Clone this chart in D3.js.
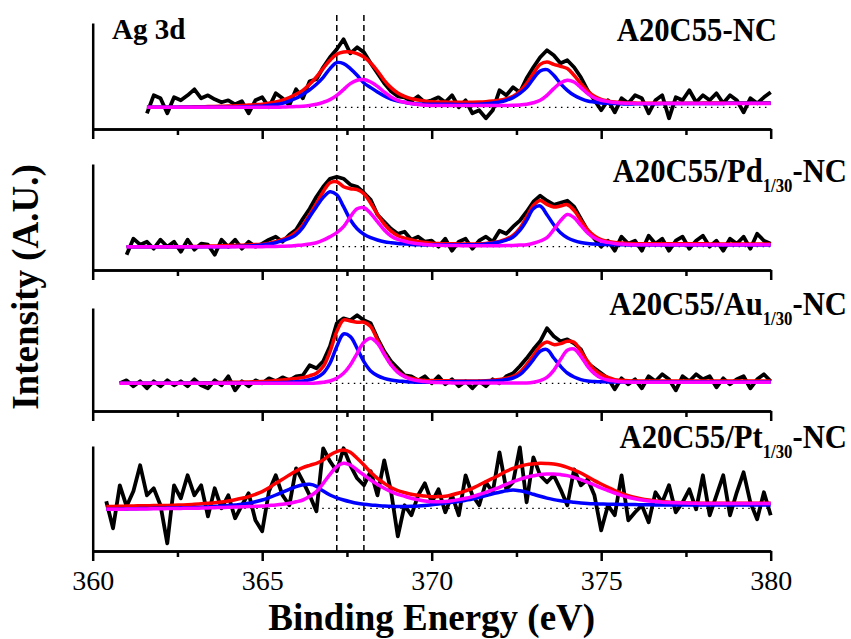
<!DOCTYPE html>
<html>
<head>
<meta charset="utf-8">
<script src="https://cdn.jsdelivr.net/npm/d3@7"></script>
<style>
  body { margin: 0; background: #fff; }
  svg { display: block; font-family: "Liberation Serif", "Times New Roman", serif; }
</style>
</head>
<body>
<svg width="851" height="639"></svg>
<script>
// Ag 3d XPS spectra, four samples
// intensities are arbitrary units above each panel's dotted baseline, sampled every 0.2 eV
const evStep = 0.2;
const evStart = [361.6, 361.0, 360.8, 360.4];

const labelMain = ["A20C55-NC", "A20C55/Pd", "A20C55/Au", "A20C55/Pt"];
const labelSub = ["", "1/30", "1/30", "1/30"];
const labelTail = ["", "-NC", "-NC", "-NC"];

const majorTicks = [360, 365, 370, 375, 380];
const minorTicks = [362.5, 367.5, 372.5, 377.5];
const refLines = [367.2, 368.0];

// panel 1: A20C55-NC
const black1 = [-6,12,9,-6,10,7,12,18,9,12,8,5,7,3,6,-6,7,
  10,0,14,9,2,18,9,26,28,40,50,58,68,54,60,55,44,34,24,16,11,10,6,11,5,
  7,10,5,12,0,7,-6,-3,-11,-3,17,12,20,15,29,40,50,57,52,44,47,40,30,17,7,
  -3,7,-5,9,4,12,9,-6,7,12,-11,10,7,17,5,12,7,14,4,12,7,-5,9,4,10,15];
const blue1 = [0,0,0,0,0,0,0,0,0,0,0,0,0,0,0.5,0.5,1,
  1,2,2.7,4,6.3,9,13,17.5,23,30,38.7,44.7,43.7,38.7,32,24.3,19.7,15.3,11.3,8.3,6.3,5,3.7,3.2,3,
  3,3,3,3,2.8,2.8,2.7,3,3.5,4.3,5.3,7,9.7,14,19.7,28.7,36.3,37.7,32,23.7,17,12,8.7,6.3,5.2,
  4.3,4,3.7,3.5,3.3,3.5,3.5,3.6,3.6,3.7,3.7,3.7,3.8,3.8,3.8,3.8,3.9,3.9,3.9,4,4,4,4,4,4,4];
const magenta1 = [0,0,0,0,0,0,0,0,0,0,0,0,0,0,0,0,0,
  0,0,0,0.3,0.5,0.8,1,1.8,3,5,7.7,12,17.7,23.7,27,27.7,25.3,21,15.3,10.3,7,5,3.7,2.7,2,
  1.8,1.7,1.7,1.7,1.7,1.7,1.7,1.7,1.7,1.7,1.7,1.8,2,2.3,3,4.5,7,12,18.7,24.3,27,25.3,19.7,13.7,9.3,
  7,5.7,4.7,4.3,4,3.9,3.8,3.8,3.8,3.8,3.8,3.8,3.8,3.8,3.8,3.8,3.8,3.8,3.8,3.8,3.8,3.8,3.8,3.8,3.8,3.8];
const red1 = [0,0,0,0,0,0.2,0.3,0.5,0.5,0.7,0.8,1,1.2,1.5,1.8,2.2,2.6,
  3,4,5.3,7.2,9.7,13,17,23,30.3,39,47,53,55.3,55.3,53.7,50.3,44.3,36.3,27,19.7,14.3,11,8.7,7.3,6.3,
  5.5,5.3,5.2,5,5,5,5,5.2,5.6,6.2,7,8.6,11,16,23.7,33.7,43,45.3,43,41,38.7,32,23.7,16.3,11,
  8,6.4,5.3,4.8,4.3,4.2,4.1,4.1,4.1,4.1,4.1,4.1,4.1,4.1,4.1,4.2,4.2,4.2,4.2,4.2,4.2,4.2,4.2,4.2,4.2,4.2];

// panel 2: A20C55/Pd1/30-NC
const black2 = [-8,8,2,5,-2,7,0,5,-5,7,-3,3,2,-8,7,0,7,-2,5,0,
  3,7,10,5,12,17,28,38,50,60,68,70,68,62,60,54,47,32,25,18,13,15,7,10,5,
  6,0,8,-4,5,8,-2,6,10,5,16,13,20,26,35,45,51,46,42,44,46,40,28,16,8,
  0,6,-4,10,3,6,-4,11,3,8,-4,6,10,-2,6,11,0,6,-4,8,3,10,-2,13,6,3];
const blue2 = [0,0,0,0,0,0,0,0,0,0,0,0,0,0,0,0,0.3,0.5,0.8,1.2,
  1.7,2.7,4,6,8.3,12,19.3,30,40,49.3,55,52,40,27,18,12.5,9,6.7,5,4,3.3,2.8,2.3,2,1.8,
  2,2,2,2,2,2,2,2,2.7,3.5,4.7,6.5,9.7,16.3,26.3,38,40.7,32,22,14,9,6,4.2,3.2,2.7,
  2.3,2.1,2,1.9,1.8,1.7,1.7,1.7,1.7,1.7,1.7,1.7,1.7,1.7,1.7,1.7,1.7,1.7,1.7,1.7,1.7,1.7,1.7,1.7,1.7,1.7];
const magenta2 = [0,0,0,0,0,0,0,0,0,0,0,0,0,0,0,0,0,0,0,0,
  0,0.2,0.3,0.5,0.7,1.2,1.7,2.7,4,6.5,10,14,20,30,38,39,33.3,25,16.7,10.7,7.3,5.5,4,3,2.3,
  1.8,1.5,1.3,1.2,1.1,1,1,1,1,1,1,1.1,1.3,1.6,2,3.5,5.7,9,17,26,32.3,29,21.3,13.7,8.7,
  5.7,4.3,3.3,2.6,2.2,2,2,2,2,2,2,2,2,2,2,2,2,2,2,2,2,2,2,2,2,2];
const red2 = [0,0,0,0,0,0,0,0,0,0,0.2,0.3,0.5,0.7,0.9,1.1,1.3,1.5,1.8,2.1,
  2.3,3.5,5,7.2,10,14.5,21.7,32,43.3,55,64,65,60,58,57,53,43.5,32.5,22.5,15.5,11,8.5,6.7,5.3,4.3,
  3.5,3.2,3,3,2.8,2.8,2.7,2.8,3.3,4.2,5.3,7.5,11.3,18.5,29.7,41.3,46.3,42.3,39.7,40.7,42,36.3,26.3,17,10.7,
  7,5.3,4.2,3.6,3.2,3,3,3,3,3,3,2.9,2.9,2.9,2.9,2.9,2.8,2.8,2.8,2.8,2.8,2.8,2.8,2.8,2.8,2.8];

// panel 3: A20C55/Au1/30-NC
const black3 = [0,3,-3,2,-5,2,-3,3,-2,2,-3,4,-2,-5,3,-2,7,-7,2,-3,3,
  0,5,2,6,3,7,8,18,15,22,37,60,65,63,68,63,60,45,32,22,15,8,7,3,7,
  0,7,-1,4,-3,2,-5,2,-3,4,0,7,10,17,25,34,42,55,47,42,44,40,34,20,15,
  10,5,-6,5,-1,4,-5,7,2,9,4,-7,7,2,9,4,7,-4,5,-1,4,7,-5,4,9,2];
const blue3 = [0,0,0,0,0,0,0,0,0,0,0,0,0,0,0,0,0,0,0,0,0,
  0.2,0.3,0.5,0.7,1,1.5,2.3,3.5,5.7,10,20,36.7,49.3,46.7,35,21.7,12.3,7.7,5,3.3,2.3,1.8,1.3,1.1,1,
  1.3,1.5,1.6,1.7,1.7,1.7,1.7,1.8,2,2.3,2.7,3.8,5.3,8.7,15.3,23.7,32,33.7,25.3,17,10.3,6.3,3.7,2.3,1.8,
  1.5,1.4,1.3,1.3,1.3,1.3,1.3,1.3,1.3,1.3,1.3,1.3,1.3,1.3,1.3,1.3,1.3,1.3,1.3,1.3,1.3,1.3,1.3,1.3,1.3,1.3];
const magenta3 = [0,0,0,0,0,0,0,0,0,0,0,0,0,0,0,0,0,0,0,0,0,
  0,0,0,0,0,0,0,0,0.3,1,2.3,5,10,18.3,30,41,45,40,29,18.3,11,6.7,4,2.5,1.7,
  1,0.7,0.5,0.4,0.3,0.3,0.3,0.3,0.3,0.3,0.3,0.3,0.3,0.3,0.3,1,2.7,6,13,23.7,33,34.3,27,17,9.7,
  5.3,3.3,2.3,1.6,1.2,1,1,1,1,1,1,1,1,1,1,1,1,1,1,1,1,1,1,1,1,1];
const red3 = [0,0,0,0,0,0,0,0,0,0,0.2,0.3,0.4,0.5,0.6,0.8,0.9,1,1.2,1.3,1.5,
  1.7,2.2,2.7,3.3,4,4.8,5.7,7.5,10,16.7,31.7,51.7,63.3,62.3,61,61,56.7,43.3,30,19,11.7,7.3,5,3.5,2.7,
  2.7,2.6,2.5,2.4,2.3,2.3,2.3,2.4,2.6,3,3.7,5,7,11,18.7,27.7,37,41.3,38.7,39.7,42,41,32,22,13.7,
  8.7,6,3.7,3,2.5,2.2,2.2,2.2,2.2,2.2,2.2,2.2,2.2,2.2,2.2,2.2,2.2,2.2,2.2,2.2,2.2,2.2,2.2,2.2,2.2,2.2];

// panel 4: A20C55/Pt1/30-NC
const black4 = [7,-20,23,2,17,43,13,20,3,-35,23,10,33,13,23,-8,20,0,13,-10,3,15,-12,
  -23,17,33,13,3,40,27,13,-3,60,47,37,60,43,30,23,37,13,48,17,-28,3,-7,13,25,
  6,19,-4,13,-7,33,13,3,26,16,56,19,26,61,6,51,33,26,33,19,3,39,23,29,13,
  -22,3,-7,33,-12,-4,3,-14,16,6,23,-4,6,19,-1,33,-7,13,33,-7,16,36,6,-11,16,-7];
const blue4 = [-1,-1,-0.8,-0.6,-0.5,-0.3,-0.2,0,0,0.2,0.3,0.5,0.6,0.7,1,1.3,1.7,2.2,2.7,3.3,4,5,6.5,
  8.3,10.7,13.3,16.2,19,21.7,23.5,24,22,17.3,13.3,10.5,8.3,6.5,5,4,3.3,2.8,2.3,2,1.7,1.8,2,2.3,2.8,
  3.5,4.3,5.3,6,6.7,8,9.3,11,12.7,14.5,16,17.5,18.3,17.5,16,14,12,10.2,8.7,7.6,6.7,6,5.3,4.8,4.5,
  4.3,4.1,4,3.9,3.8,3.7,3.6,3.5,3.4,3.4,3.3,3.3,3.3,3.3,3.3,3.3,3.3,3.3,3.3,3.3,3.3,3.3,3.3,3.3,3.3,3.3];
const magenta4 = [-1,-1,-0.9,-0.8,-0.7,-0.6,-0.6,-0.5,-0.5,-0.3,-0.2,-0.1,0,0,0.2,0.4,0.6,0.8,1,1.2,1.5,1.7,2,
  2.3,2.8,3.3,4,5,6.5,8.3,12,16.7,25,34,41.7,45,43.3,38.3,33.3,28.3,24,20,16.7,14,12,10,8.5,7.3,
  6.5,6.5,6.7,7.5,8.7,10,11.7,13.8,16,18.5,21,24,26.7,29,31,32.5,33.7,34.2,34.3,33.7,32.7,30.8,28.7,26,23.3,
  20.3,17.8,15.3,13,11,9.5,8.3,7.4,6.7,6.1,5.7,5.5,5.3,5.1,5,4.8,4.8,4.8,4.8,4.8,4.8,4.8,4.8,4.8,4.8,4.8];
const red4 = [1.7,1.8,2,2.2,2.4,2.5,2.6,2.7,2.7,2.8,3,3.3,3.6,4,4.5,5,5.5,6.2,7.3,8.5,10,11.7,14,
  16.7,20.5,25,29,33.3,37.3,40.7,43,45,48.3,53.3,56.7,58.3,56,50,43.3,36,30,25,20.7,17.7,15.7,14,13,12.3,
  11.5,11.7,12,13.5,15.3,17.5,20,23.3,26.7,30,33.3,37,40,42,43.7,44.5,45,44.8,44.3,43,41,38.3,35.3,31.5,27.7,
  24.3,21,17.7,15,12.7,10.8,9.3,8.2,7.3,6.6,6,5.8,5.6,5.4,5.3,5,5,5,5,5,5,5,5,5,5,5];

const blackData = [black1, black2, black3, black4];
const blueData = [blue1, blue2, blue3, blue4];
const magentaData = [magenta1, magenta2, magenta3, magenta4];
const redData = [red1, red2, red3, red4];

// layout
const serif = "'Liberation Serif', 'Times New Roman', 'DejaVu Serif', serif";
const svg = d3.select("svg").attr("font-family", serif);
const panelTop = [23, 164, 308, 446];
const panelBottom = [129, 270, 411, 551];
const panelZero = [107.3, 246.7, 383.3, 508.3];
const labelRight = [777, 847, 847, 847];
const labelBase = [41, 182, 315, 448];

const x = d3.scaleLinear().domain([360, 380]).range([92.7, 770.7]);

// dashed reference lines behind the spectra
svg.append("g").selectAll("line")
   .data(refLines)
   .enter()
   .append("line")
   .attr("x1", d => x(d)).attr("x2", d => x(d))
   .attr("y1", 15).attr("y2", panelBottom[3])
   .attr("stroke", "#000")
   .attr("stroke-width", 1.5)
   .attr("stroke-dasharray", "6,4");

function drawPanel(i) {
  const y = d3.scaleLinear()
              .domain([panelZero[i] - panelBottom[i], panelZero[i] - panelTop[i]])
              .range([panelBottom[i], panelTop[i]]);

  const ev = d3.range(blackData[i].length).map(k => evStart[i] + evStep * k);
  const g = svg.append("g");

  // dotted baseline
  g.append("line")
   .attr("x1", x(evStart[i])).attr("x2", x(380))
   .attr("y1", y(0)).attr("y2", y(0))
   .attr("stroke", "#000")
   .attr("stroke-width", 1.3)
   .attr("stroke-dasharray", "1.5,4.5");

  const rawLine = d3.line()
                    .x((d, k) => x(ev[k]))
                    .y(d => y(d));
  const fitLine = d3.line()
                    .x((d, k) => x(ev[k]))
                    .y(d => y(d))
                    .curve(d3.curveCatmullRom.alpha(0.5));

  g.append("path")
   .attr("d", rawLine(blackData[i]))
   .attr("fill", "none")
   .attr("stroke", "#000")
   .attr("stroke-width", 3.8)
   .attr("stroke-linejoin", "round");

  const fits = [[redData[i], "#ff0000"], [blueData[i], "#0000ff"], [magentaData[i], "#ff00ff"]];
  fits.forEach(function(f) {
    g.append("path")
     .attr("d", fitLine(f[0]))
     .attr("fill", "none")
     .attr("stroke", f[1])
     .attr("stroke-width", 3.5)
     .attr("stroke-linejoin", "round");
  });

  // axes: plain left line, bottom with major and minor ticks
  const last = i === 3;
  const axMajor = d3.axisBottom(x)
                    .tickValues(majorTicks)
                    .tickSize(10)
                    .tickSizeOuter(0)
                    .tickPadding(9)
                    .tickFormat(last ? d3.format("d") : "");
  const axMinor = d3.axisBottom(x)
                    .tickValues(minorTicks)
                    .tickSize(6)
                    .tickSizeOuter(0)
                    .tickFormat("");

  const bx = g.append("g")
              .attr("transform", "translate(0," + panelBottom[i] + ")")
              .call(axMajor);
  g.append("g")
   .attr("transform", "translate(0," + panelBottom[i] + ")")
   .call(axMinor);
  g.append("g")
   .attr("transform", "translate(" + x(360) + ",0)")
   .call(d3.axisLeft(y).tickValues([]).tickSizeOuter(0));

  g.selectAll(".domain, .tick line").attr("stroke", "#000").attr("stroke-width", 2.5);
  bx.attr("font-family", serif);
  bx.selectAll("text")
    .attr("font-family", serif)
    .attr("font-size", 28)
    .attr("fill", "#000");

  // sample label
  const t = g.append("text")
             .attr("transform", "translate(" + labelRight[i] + "," + labelBase[i] + ") scale(0.93,1)")
             .attr("text-anchor", "end")
             .attr("font-family", serif)
             .attr("font-weight", "bold")
             .attr("font-size", 33)
             .text(labelMain[i]);
  if (labelSub[i]) {
    t.append("tspan").attr("font-size", 18).attr("dy", 10).text(labelSub[i]);
    t.append("tspan").attr("font-size", 33).attr("dy", -10).text(labelTail[i]);
  }
}

for (let i = 0; i < 4; i++) drawPanel(i);

svg.append("text")
   .attr("x", 112).attr("y", 39)
   .attr("font-family", serif)
   .attr("font-weight", "bold")
   .attr("font-size", 29)
   .text("Ag 3d");

svg.append("text")
   .attr("transform", "translate(38,287) rotate(-90)")
   .attr("text-anchor", "middle")
   .attr("font-family", serif)
   .attr("font-weight", "bold")
   .attr("font-size", 37)
   .text("Intensity (A.U.)");

svg.append("text")
   .attr("x", (x(360) + x(380)) / 2).attr("y", 630)
   .attr("text-anchor", "middle")
   .attr("font-family", serif)
   .attr("font-weight", "bold")
   .attr("font-size", 37)
   .text("Binding Energy (eV)");
</script>
</body>
</html>
